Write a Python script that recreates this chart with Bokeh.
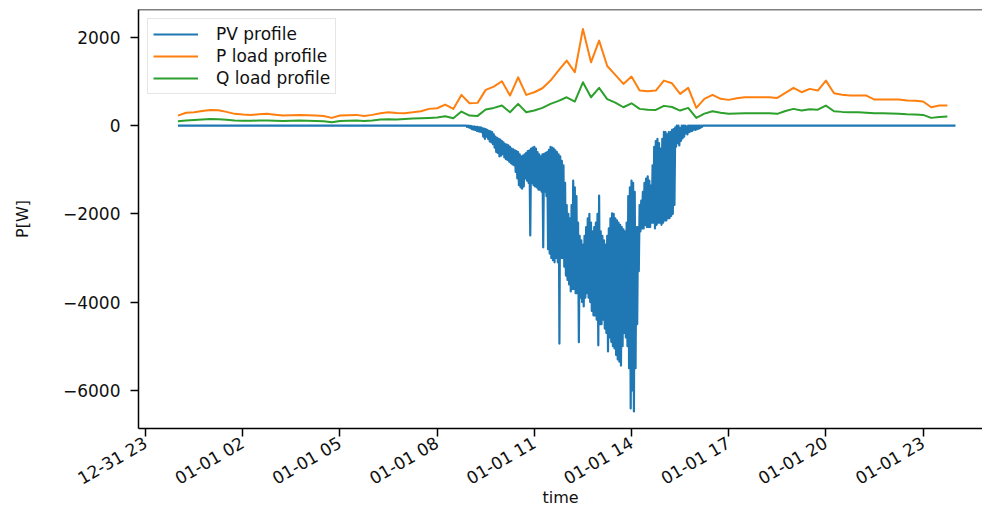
import pandas as pd
from bokeh.plotting import figure
from bokeh.models import Range1d, FixedTicker, CustomJSTickFormatter, Span
from bokeh.embed import file_html
from bokeh.resources import INLINE

# ---------------- data ----------------
load_start = "2020-01-01 00:00"          # 15-min load profiles
p_load = [226, 290, 300, 330, 355, 345, 310, 265, 250, 242,
          255, 265, 245, 226, 235, 242, 235, 226, 215, 174,
          226, 235, 242, 219, 242, 280, 302, 285, 280, 300,
          325, 378, 392, 476, 378, 695, 505, 514, 808, 883,
          1004, 680, 1094, 695, 755, 845, 1019, 1250, 1472, 1207,
          2190, 1434, 1925, 1350, 1150, 944, 1110, 793, 780, 793,
          1019, 958, 718, 854, 400, 605, 695, 605, 582, 620,
          641, 641, 641, 641, 627, 740, 854, 755, 831, 793,
          1019, 731, 700, 680, 680, 680, 589, 589, 589, 589,
          570, 560, 544, 415, 453, 453]
q_load = [98, 115, 128, 140, 151, 145, 130, 113, 110, 110,
          113, 113, 110, 105, 110, 113, 110, 105, 100, 75,
          105, 110, 113, 105, 113, 135, 143, 135, 151, 160,
          166, 174, 185, 211, 166, 317, 226, 219, 362, 400,
          453, 302, 491, 302, 340, 400, 491, 560, 641, 544,
          981, 641, 854, 600, 520, 415, 505, 378, 360, 355,
          446, 420, 340, 400, 174, 270, 325, 290, 265, 275,
          280, 280, 280, 280, 265, 330, 378, 340, 370, 360,
          453, 325, 310, 300, 300, 290, 280, 280, 275, 265,
          255, 250, 242, 174, 195, 204]

# PV: zero outside daylight; while the sun is up the signal flickers fast,
# read as the high / low reading of every 3-minute slot (1.5-min samples).
pv_day_start = "2020-01-01 00:00"
pv_active_start = "2020-01-01 08:54"
pv_day_end = "2020-01-02 00:00"
pv_high = [0, 0, -10, -10, -20, -20, -30, -30, -40, -40,
           -60, -70, -80, -100, -120, -130, -150, -200, -250, -280,
           -300, -320, -350, -380, -420, -430, -450, -480, -520, -540,
           -560, -580, -600, -650, -700, -680, -650, -620, -580, -560,
           -520, -500, -480, -520, -600, -650, -700, -650, -640, -620,
           -600, -550, -480, -500, -520, -560, -600, -650, -700, -800,
           -900, -1300, -1800, -2000, -2100, -1800, -1250, -1400, -1600, -2200,
           -2500, -2600, -2700, -2500, -2300, -2100, -2000, -2200, -2400, -2300,
           -2200, -2000, -1590, -2400, -2500, -2600, -2700, -2500, -2330, -2100,
           -1990, -2000, -2100, -2150, -2200, -2250, -2300, -2350, -2400, -2200,
           -1600, -1400, -1250, -1300, -1500, -2300, -2300, -1800, -1700, -1500,
           -1300, -1200, -1150, -1250, -1360, -900, -480, -350, -300, -400,
           -520, -300, -140, -150, -200, -150, -150, -100, -80, -40,
           0, 0, -60, 0, 0, 0, -20, 0, 0, 0,
           0, 0, 0, 0, 0, 0, 0]
pv_low = [-30, -40, -60, -80, -90, -100, -120, -130, -140, -150,
          -250, -300, -250, -300, -360, -380, -420, -500, -600, -620,
          -700, -680, -650, -720, -760, -780, -820, -850, -880, -900,
          -1050, -1200, -1350, -1400, -1430, -1380, -1200, -1250, -1300, -2490,
          -1300, -1350, -1380, -1400, -1450, -1450, -1500, -2760, -1500, -1600,
          -2800, -2900, -3000, -3050, -3100, -3000, -3100, -4940, -3000, -3000,
          -3200, -3400, -3500, -3600, -3760, -3700, -3700, -3800, -3800, -4910,
          -3900, -4000, -4100, -3900, -3800, -3900, -4000, -4200, -4300, -4300,
          -4400, -4980, -4500, -4500, -4400, -4600, -4700, -5120, -4800, -4900,
          -5000, -5050, -5200, -5300, -5350, -5440, -5000, -4700, -4800, -5000,
          -5500, -6410, -6000, -6480, -5500, -4500, -3300, -2400, -2330, -2330,
          -2250, -2300, -2300, -2300, -2200, -2200, -2330, -2250, -2200, -2200,
          -2250, -2200, -2150, -2150, -2100, -2100, -2050, -2000, -1800, -480,
          -400, -450, -350, -290, -250, -180, -200, -150, -130, -120,
          -90, -100, -80, -70, -50, -30, 0]

x_tick_times = ["2019-12-31 23:00", "2020-01-01 02:00", "2020-01-01 05:00",
                "2020-01-01 08:00", "2020-01-01 11:00", "2020-01-01 14:00",
                "2020-01-01 17:00", "2020-01-01 20:00", "2020-01-01 23:00"]
x_tick_labels = ["12-31 23", "01-01 02", "01-01 05", "01-01 08", "01-01 11",
                 "01-01 14", "01-01 17", "01-01 20", "01-01 23"]
y_ticks = [-6000, -4000, -2000, 0, 2000]
y_tick_labels = ["\u22126000", "\u22124000", "\u22122000", "0", "2000"]

series_names = ["PV profile", "P load profile", "Q load profile"]
series_colors = ["#1f77b4", "#ff7f0e", "#2ca02c"]

# ---------------- build ----------------
def ms(t):
    return pd.Timestamp(t).value / 1e6

load_t = pd.date_range(load_start, periods=len(p_load), freq="15min")

pv_active = []
for hi, lo in zip(pv_high, pv_low):
    pv_active += [hi, lo]
pv_t = ([pd.Timestamp(pv_day_start)]
        + list(pd.date_range(pv_active_start, periods=len(pv_active), freq="90s"))
        + [pd.Timestamp(pv_day_end)])
pv_v = [0] + pv_active + [0]

x_start = ms("2019-12-31 22:47:00")
x_end = ms("2020-01-02 00:50:00")
y_start, y_end = -6865, 2630

FONT = "DejaVu Sans"

p = figure(width=982, height=510, x_axis_type="datetime",
           x_range=Range1d(x_start, x_end), y_range=Range1d(y_start, y_end),
           output_backend="svg", toolbar_location=None,
           min_border_left=138, min_border_right=0,
           min_border_top=9, min_border_bottom=82)
p.outline_line_color = None
p.grid.visible = False
p.background_fill_color = "white"
p.border_fill_color = "white"

p.line(pv_t, pv_v, color=series_colors[0], line_width=2.2, line_join="round",
       legend_label=series_names[0])
p.line(load_t, p_load, color=series_colors[1], line_width=2.0, line_join="round",
       legend_label=series_names[1])
p.line(load_t, q_load, color=series_colors[2], line_width=2.0, line_join="round",
       legend_label=series_names[2])

# top spine
p.add_layout(Span(location=y_end, dimension="width", line_color="black", line_width=1.5))

xt_ms = [ms(t) for t in x_tick_times]
xa = p.xaxis[0]
xa.ticker = FixedTicker(ticks=xt_ms)
xa.formatter = CustomJSTickFormatter(args=dict(tvals=xt_ms, tlabels=x_tick_labels), code="""
const i = tvals.findIndex(t => Math.abs(t - tick) < 1000);
return i >= 0 ? tlabels[i] : "";
""")
xa.major_label_orientation = 0.5236
xa.axis_label = "time"

ya = p.yaxis[0]
ya.ticker = FixedTicker(ticks=y_ticks)
ya.formatter = CustomJSTickFormatter(args=dict(tvals=y_ticks, tlabels=y_tick_labels), code="""
const i = tvals.findIndex(t => Math.abs(t - tick) < 0.5);
return i >= 0 ? tlabels[i] : "";
""")
ya.axis_label = "P[W]"

for ax in (xa, ya):
    ax.axis_line_color = "black"
    ax.axis_line_width = 1.5
    ax.major_tick_line_color = "black"
    ax.major_tick_line_width = 1.5
    ax.major_tick_in = 0
    ax.major_tick_out = 8
    ax.minor_tick_in = 0
    ax.minor_tick_out = 0
    ax.major_label_text_font = FONT
    ax.major_label_text_font_size = "17px"
    ax.major_label_text_color = "#111111"
    ax.axis_label_text_font = FONT
    ax.axis_label_text_font_size = "16px"
    ax.axis_label_text_font_style = "normal"
    ax.axis_label_text_color = "#111111"

ya.major_label_standoff = 10
ya.axis_label_standoff = 28
xa.major_label_standoff = 5
xa.axis_label_standoff = -12

lg = p.legend[0]
lg.location = "top_left"
lg.margin = 9
lg.padding = 5
lg.spacing = 2
lg.glyph_width = 45
lg.glyph_height = 18
lg.label_height = 18
lg.label_standoff = 18
lg.label_text_font = FONT
lg.label_text_font_size = "17px"
lg.label_text_color = "#111111"
lg.border_line_color = "#cccccc"
lg.border_line_width = 1
lg.background_fill_color = "white"
lg.background_fill_alpha = 0.8

open("out.html", "w").write(file_html(p, INLINE))
